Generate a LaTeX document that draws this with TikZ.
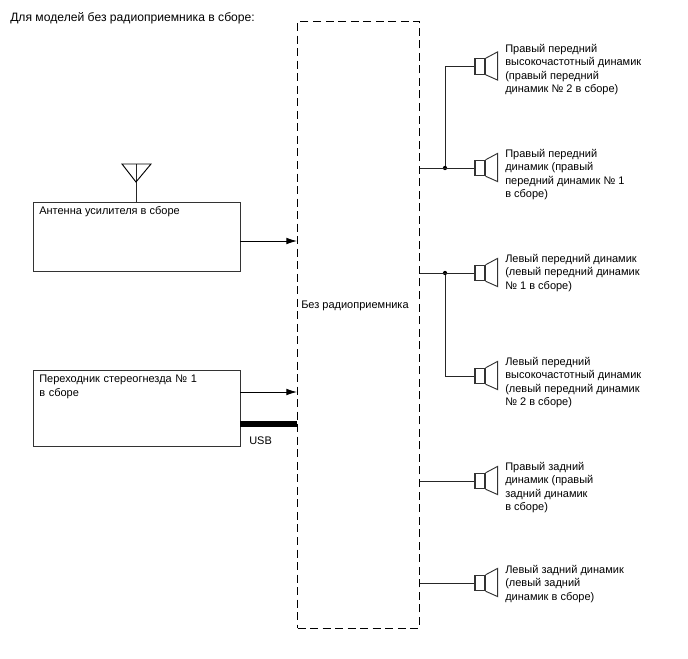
\documentclass[tikz,border=0pt]{standalone}
\usepackage{fontspec}
\setmainfont{Liberation Sans}
\usetikzlibrary{arrows.meta,positioning,calc}
\definecolor{LineGray}{HTML}{333333}
\tikzset{
unitbox/.style={draw=LineGray,line width=.8pt,anchor=north west,inner sep=0pt},
lbl/.style={anchor=north west,inner sep=0pt,align=left,font=\fontsize{8.25pt}{10pt}\selectfont},
wire/.style={line width=.65pt,black!85},
arr/.style={-{Latex[length=8pt,width=5pt]},line width=.65pt,black},
magnet/.style={draw=LineGray,line width=.8pt,minimum width=7.5pt,minimum height=11.5pt,inner sep=0pt},
dot/.style={circle,fill=black,inner sep=0pt,minimum size=3.2pt}
}
\newcommand{\cone}[1]{\draw[line width=.7pt,LineGray] (#1.north east)--++(9pt,4.8pt)--++(0,-21.1pt)--(#1.south east);}

\begin{document}
\begin{tikzpicture}[x=.75pt,y=-.75pt]
\useasboundingbox (0,0) rectangle (688,658);
\node[lbl,font=\fontsize{9.1pt}{11pt}\selectfont] (title) at (10,12) {Для моделей без радиоприемника в сборе:};
% central unit
\node[unitbox,draw=black,dash pattern=on 6pt off 3.4pt,minimum width=91.5pt,minimum height=455pt] (unit) at (297,21) {};
\node[lbl] (unitlabel) at (301,301) {Без радиоприемника};
% left side
\node[unitbox,minimum width=155pt,minimum height=52pt] (amp) at (33,202) {};
\node[lbl] (amplabel) at (39,206) {Антенна усилителя в сборе};
\node[unitbox,minimum width=155pt,minimum height=57pt] (stereo) at (33,370) {};
\node[lbl,text width=150pt] (stereolabel) at (39,375) {Переходник стереогнезда № 1\\в сборе};
\coordinate (anttop) at (136,164);
\draw[wire] (amp.north west -| anttop)--(anttop);
\draw[line width=.7pt] (122,164)--(151,164)--(136,182)--cycle;
\coordinate (ampout) at (240,241);
\coordinate (ampin) at (297,241);
\draw[arr] (ampout)--(ampin);
\coordinate (stereoout) at (240,392);
\coordinate (stereoin) at (297,392);
\draw[arr] (stereoout)--(stereoin);
\coordinate (usbout) at (240,424);
\coordinate (usbin) at (297,424);
\draw[line width=4.6pt,black] (usbout)--(usbin);
\node[lbl] (usb) at (249,437) {USB};
% speakers
\node[magnet] (spka) at (480,66.5) {};
\node[magnet] (spkb) at (480,168) {};
\node[magnet] (spkc) at (480,273) {};
\node[magnet] (spkd) at (480,376) {};
\node[magnet] (spke) at (480,481) {};
\node[magnet] (spkf) at (480,583) {};
\foreach \s in {spka,spkb,spkc,spkd,spke,spkf}{\cone{\s}}
\node[lbl] (labela) at (505,44) {Правый передний\\высокочастотный динамик\\(правый передний\\динамик № 2 в сборе)};
\node[lbl] (labelb) at (505,149) {Правый передний\\динамик (правый\\передний динамик № 1\\в сборе)};
\node[lbl] (labelc) at (505,254) {Левый передний динамик\\(левый передний динамик\\№ 1 в сборе)};
\node[lbl] (labeld) at (505,357) {Левый передний\\высокочастотный динамик\\(левый передний динамик\\№ 2 в сборе)};
\node[lbl] (labele) at (505,462) {Правый задний\\динамик (правый\\задний динамик\\в сборе)};
\node[lbl] (labelf) at (505,565) {Левый задний динамик\\(левый задний\\динамик в сборе)};
% wiring
\node[dot] (joina) at (445,168) {};
\node[dot] (joinb) at (445,273) {};
\draw[wire] (unit.east |- spkb)--(spkb.west);
\draw[wire] (joina)|-(spka.west);
\draw[wire] (unit.east |- spkc)--(spkc.west);
\draw[wire] (joinb)|-(spkd.west);
\draw[wire] (unit.east |- spke)--(spke.west);
\draw[wire] (unit.east |- spkf)--(spkf.west);
\end{tikzpicture}
\end{document}
